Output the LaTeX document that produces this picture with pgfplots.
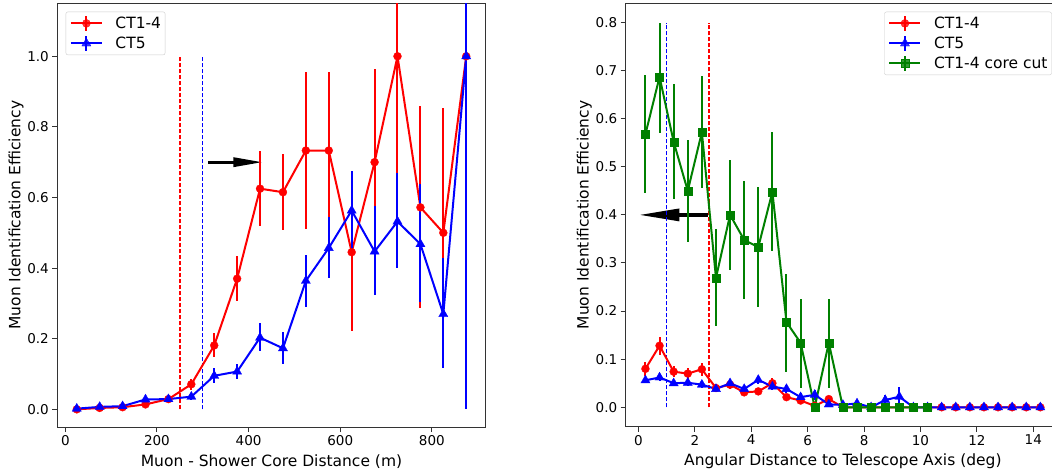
\documentclass[border=0pt]{standalone}
\usepackage{pgfplots}
\pgfplotsset{compat=1.18}
\usepackage{pgfplotstable}
\usetikzlibrary{arrows.meta}
\usepackage{fontspec}
\setmainfont{DejaVu Sans}

\definecolor{mplgreen}{rgb}{0,0.5,0}
\definecolor{cutred}{rgb}{1,0,0}
\definecolor{cutblue}{rgb}{0,0,1}

% x, y, error up, error down
\pgfplotstableread{
x y ep em
25 0.000 0.003 0.003
75 0.004 0.003 0.003
125 0.006 0.004 0.004
175 0.014 0.006 0.006
225 0.029 0.008 0.008
275 0.071 0.015 0.015
325 0.181 0.034 0.034
375 0.370 0.063 0.063
425 0.625 0.106 0.105
475 0.615 0.109 0.108
525 0.733 0.222 0.222
575 0.733 0.222 0.222
625 0.445 0.222 0.222
675 0.700 0.265 0.265
725 1.000 0.330 0.330
775 0.572 0.286 0.286
825 0.500 0.353 0.353
875 1.000 0.500 0.500
}\distcta

\pgfplotstableread{
x y ep em
25 0.002 0.003 0.003
75 0.007 0.004 0.004
125 0.009 0.005 0.005
175 0.028 0.008 0.008
225 0.029 0.008 0.008
275 0.036 0.010 0.010
325 0.095 0.021 0.021
375 0.107 0.022 0.022
425 0.203 0.041 0.039
475 0.173 0.047 0.045
525 0.364 0.074 0.073
575 0.457 0.089 0.086
625 0.563 0.113 0.113
675 0.447 0.128 0.123
725 0.532 0.137 0.132
775 0.468 0.170 0.163
825 0.270 0.158 0.154
875 1.000 1.000 1.000
}\distctb

\pgfplotstableread{
x y ep em
0.25 0.080 0.015 0.015
0.75 0.128 0.019 0.019
1.25 0.074 0.012 0.012
1.75 0.070 0.012 0.012
2.25 0.079 0.013 0.013
2.75 0.040 0.008 0.008
3.25 0.047 0.010 0.010
3.75 0.031 0.008 0.008
4.25 0.033 0.008 0.008
4.75 0.050 0.010 0.010
5.25 0.021 0.006 0.006
5.75 0.014 0.005 0.005
6.25 0.003 0.003 0.003
6.75 0.017 0.006 0.006
7.25 0 0 0
7.75 0 0 0
8.25 0 0 0
8.75 0 0 0
9.25 0 0 0
9.75 0 0 0
10.25 0 0 0
10.75 0 0 0
11.25 0 0 0
11.75 0 0 0
12.25 0 0 0
12.75 0 0 0
13.25 0 0 0
13.75 0 0 0
14.25 0 0 0
}\angcta

\pgfplotstableread{
x y ep em
0.25 0.056 0.006 0.006
0.75 0.062 0.008 0.008
1.25 0.050 0.006 0.006
1.75 0.051 0.006 0.006
2.25 0.047 0.006 0.006
2.75 0.038 0.006 0.006
3.25 0.050 0.008 0.008
3.75 0.038 0.007 0.007
4.25 0.057 0.009 0.009
4.75 0.043 0.008 0.008
5.25 0.038 0.008 0.008
5.75 0.021 0.008 0.008
6.25 0.026 0.010 0.010
6.75 0.006 0.004 0.004
7.25 0.005 0.004 0.004
7.75 0.008 0.006 0.006
8.25 0 0 0
8.75 0.015 0.011 0.011
9.25 0.022 0.020 0.020
9.75 0 0 0
10.25 0 0 0
10.75 0 0 0
11.25 0 0 0
11.75 0 0 0
12.25 0 0 0
12.75 0 0 0
13.25 0 0 0
13.75 0 0 0
14.25 0 0 0
}\angctb

\pgfplotstableread{
x y ep em
0.25 0.568 0.122 0.123
0.75 0.687 0.113 0.117
1.25 0.552 0.121 0.119
1.75 0.450 0.106 0.106
2.25 0.572 0.116 0.117
2.75 0.269 0.101 0.101
3.25 0.400 0.115 0.115
3.75 0.348 0.122 0.122
4.25 0.333 0.125 0.124
4.75 0.448 0.124 0.123
5.25 0.177 0.101 0.103
5.75 0.134 0.092 0.094
6.25 0 0 0
6.75 0.134 0.092 0.094
7.25 0 0 0
7.75 0 0 0
8.25 0 0 0
8.75 0 0 0
9.25 0 0 0
9.75 0 0 0
10.25 0 0 0
}\angcore

\pgfplotsset{
  panel/.style={
    scale only axis,
    anchor=south west,
    axis line style={line width=1pt, black!80},
    major tick style={line width=1pt, black!80},
    major tick length=5pt,
    tick align=outside,
    tick pos=left,
    /pgf/number format/assume math mode=true,
    tick label style={font=\fontsize{13.5}{16}\selectfont},
    label style={font=\fontsize{15.5}{18}\selectfont},
    ylabel={Muon Identification Efficiency},
    ylabel style={at={([xshift=-37pt]axis description cs:0,0.5)}, anchor=base},
    xlabel style={at={([yshift=-39pt]axis description cs:0.5,0)}, anchor=base},
    legend cell align=left,
    legend style={draw=black!20, fill=white, fill opacity=0.8, text opacity=1,
      rounded corners=2pt, font=\fontsize{15.5}{18}\selectfont,
      inner xsep=4pt, inner ysep=3pt, row sep=3pt,
      nodes={inner xsep=0pt}},
    legend image code/.code={
      \draw[##1, mark=none] (0pt,0pt) -- (31pt,0pt);
      \draw[##1, mark=none, line width=2pt] (15.5pt,-7.5pt) -- (15.5pt,7.5pt);
      \draw[##1, only marks] plot coordinates {(15.5pt,0pt)};
      \path (43.6pt,0pt);
    },
  },
  errs/.style={error bars/.cd, y dir=both, y explicit, error mark=none,
    error bar style={line width=2pt, solid}},
  cta/.style={color=red, line width=2pt, mark=*, mark size=4pt,
    mark options={line width=0.3pt, solid}, errs},
  ctb/.style={color=blue, line width=2pt, mark=triangle*, mark size=5.3pt,
    mark options={line width=0.3pt, solid}, errs},
  ctc/.style={color=mplgreen, line width=2pt, mark=square*, mark size=4pt,
    mark options={line width=0.3pt, solid}, errs},
  cutline/.style={forget plot, line width=1.4pt, dash pattern=on 4pt off 2pt},
}

\begin{document}
\begin{tikzpicture}
\useasboundingbox (0,0) rectangle (1052pt,474pt);

\begin{axis}[panel,
  at={(57.3pt,47pt)}, width=428.4pt, height=423.7pt,
  xmin=-17.5, xmax=917.5, ymin=-0.05, ymax=1.15,
  xtick={0,200,400,600,800},
  ytick={0,0.2,0.4,0.6,0.8,1.0},
  yticklabel style={/pgf/number format/.cd, fixed, fixed zerofill, precision=1},
  xlabel={Muon - Shower Core Distance (m)},
  legend style={at={(0,1)}, anchor=north west, xshift=8.4pt, yshift=-8.4pt},
]
\addplot[forget plot, black, line width=3.3pt, -{Triangle[length=30pt, width=9pt]}]
  coordinates {(312,0.7) (432,0.7)};
\addplot[cutline, color=cutred] coordinates {(250,0) (250,1)};
\addplot[cutline, color=cutblue] coordinates {(300,0) (300,1)};
\addplot[cta] table[x=x, y=y, y error plus=ep, y error minus=em] {\distcta};
\addlegendentry{CT1-4}
\addplot[ctb] table[x=x, y=y, y error plus=ep, y error minus=em] {\distctb};
\addlegendentry{CT5}
\end{axis}

\begin{axis}[panel,
  at={(625.7pt,47.5pt)}, width=434.4pt, height=423.2pt,
  xmin=-0.45, xmax=14.95, ymin=-0.04, ymax=0.84,
  xtick={0,2,4,6,8,10,12,14},
  ytick={0,0.1,0.2,0.3,0.4,0.5,0.6,0.7,0.8},
  yticklabel style={/pgf/number format/.cd, fixed, fixed zerofill, precision=1},
  xlabel={Angular Distance to Telescope Axis (deg)},
  legend style={at={(1,1)}, anchor=north east, xshift=-8.4pt, yshift=-8.4pt},
]
\addplot[forget plot, black, line width=4pt, -{Triangle[length=41pt, width=11.7pt]}]
  coordinates {(2.45,0.4) (0,0.4)};
\addplot[cutline, color=cutblue] coordinates {(1,0) (1,0.8)};
\addplot[cutline, color=cutred] coordinates {(2.5,0) (2.5,0.8)};
\addplot[cta] table[x=x, y=y, y error plus=ep, y error minus=em] {\angcta};
\addlegendentry{CT1-4}
\addplot[ctb] table[x=x, y=y, y error plus=ep, y error minus=em] {\angctb};
\addlegendentry{CT5}
\addplot[ctc] table[x=x, y=y, y error plus=ep, y error minus=em] {\angcore};
\addlegendentry{CT1-4 core cut}
\end{axis}
\end{tikzpicture}
\end{document}
